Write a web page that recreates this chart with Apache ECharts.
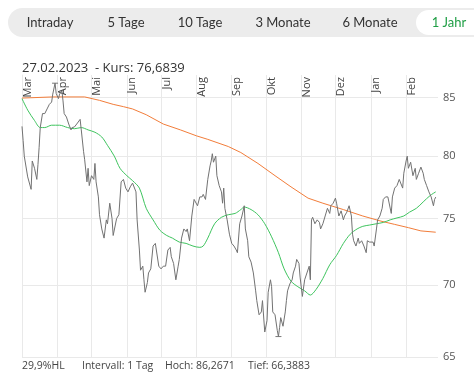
<!DOCTYPE html>
<html><head><meta charset="utf-8">
<script src="https://cdn.jsdelivr.net/npm/echarts@6/dist/echarts.min.js"></script>
<style>html,body{margin:0;padding:0;background:#fff;}#c{width:474px;height:373px;}</style>
</head><body><div id="c"></div>
<script>
// ---- data ----
const startDate = '2022-03-01';
const endDate = '2023-03-01';
const monthStarts = ['2022-03-01','2022-04-01','2022-05-01','2022-06-01','2022-07-01','2022-08-01','2022-09-01','2022-10-01','2022-11-01','2022-12-01','2023-01-01','2023-02-01'];
const monthLabels = ['Mar','Apr','Mai','Jun','Jul','Aug','Sep','Okt','Nov','Dez','Jan','Feb'];
const yTicks = [65, 70, 75, 80, 85];

// days since 2022-03-01 and close prices
const priceDays = [0,1,2,5,8,9,11,13,14,15,16,18,20,22,24,26,27,29,30,32,33,35,36,37,39,41,43,44,46,48,51,52,54,55,57,58,59,61,63,64,65,67,68,70,72,74,75,77,79,80,83,85,87,89,91,93,95,97,98,100,101,103,104,106,107,108,110,111,113,115,117,118,120,122,124,126,128,130,131,133,135,137,138,140,142,144,145,147,149,151,152,154,156,158,159,161,163,165,166,167,168,170,171,173,175,176,177,178,180,182,184,186,188,189,191,193,195,196,198,199,201,203,205,206,208,210,211,213,215,216,218,219,220,222,224,225,226,227,229,231,232,233,235,237,238,240,241,243,244,246,248,250,252,253,254,255,257,259,261,262,264,266,268,270,271,273,275,276,278,280,282,283,285,287,289,290,291,293,295,296,298,300,302,303,305,308,309,311,312,314,316,317,319,321,322,324,325,327,329,331,332,334,335,337,338,339,341,343,345,346,348,350,352,353,355,357,359,361,362,363];
const priceValues = [82.5,81.3,80.0,78.3,77.3,79.6,79.0,78.1,79.3,80.7,82.4,83.6,83.6,84.0,84.4,84.6,85.3,86.27,85.35,84.9,85.3,85.6,84.7,83.6,83.3,82.7,82.2,82.4,82.45,82.7,83.1,82.2,80.4,79.7,77.9,79.0,77.6,78.4,78.1,79.4,77.9,76.7,75.3,74.2,73.5,74.9,74.6,76.2,75.0,73.7,75.0,75.3,77.9,78.1,77.4,77.1,77.5,77.8,77.9,77.1,74.9,72.6,71.1,71.4,70.4,69.5,70.2,70.9,71.2,72.9,73.1,73.1,71.4,71.2,71.4,71.4,72.6,72.8,72.1,71.6,70.4,71.4,71.9,73.5,74.2,74.0,74.2,73.3,75.2,76.5,76.6,76.0,76.7,76.7,76.9,76.5,78.1,79.2,79.6,80.2,79.5,80.0,78.4,77.6,77.1,76.2,77.4,75.8,74.9,73.8,73.1,72.9,72.6,72.4,74.6,75.2,76.0,74.2,73.3,72.1,71.7,70.9,69.6,68.9,67.9,68.1,68.9,66.7,67.5,69.5,70.4,69.9,68.1,67.9,66.8,66.39,67.0,67.7,67.1,68.1,68.9,69.6,70.1,70.4,70.9,71.4,71.9,71.6,70.6,69.2,70.4,70.9,71.4,70.4,74.9,75.1,74.6,74.9,74.7,74.2,74.6,75.2,75.8,75.4,76.0,76.2,76.6,76.2,75.2,75.6,74.9,75.2,75.5,76.0,75.2,73.8,73.3,72.9,73.5,73.1,73.3,72.9,72.4,73.3,73.2,73.2,72.9,74.2,74.9,75.2,75.8,76.5,76.7,76.7,76.7,75.4,76.7,77.4,77.6,78.1,78.0,77.4,78.6,79.6,80.0,79.0,79.5,78.4,79.0,78.1,78.6,79.1,78.6,78.1,77.6,77.1,76.7,76.0,76.5,76.6839];

// short moving average (green)
const maShortDays = [0,5,11,16,20,26,33,40,46,52,58,64,70,75,81,86,92,97,103,109,115,121,127,132,138,144,150,156,159,163,169,175,181,187,192,195,201,207,213,219,225,230,236,242,248,253,258,264,270,276,282,288,294,299,305,311,317,323,329,335,340,346,352,358,363];
const maShortValues = [84.9,83.9,83.0,82.4,82.4,82.6,82.6,82.4,82.3,82.4,82.2,82.0,81.6,80.9,80.0,79.0,78.4,78.0,77.4,75.8,74.9,74.1,73.7,73.5,73.2,73.1,72.9,72.8,72.9,73.5,74.6,75.1,75.3,75.4,75.7,75.9,75.7,75.3,74.6,73.6,72.4,71.2,70.3,69.9,69.6,69.3,69.7,70.5,71.5,72.2,73.1,73.8,74.2,74.4,74.5,74.6,74.7,74.9,75.05,75.2,75.5,75.8,76.3,76.8,77.1];

// 200-day moving average (orange)
const ma200Days = [0,27,55,68,80,89,97,109,124,139,153,163,181,192,207,222,236,251,264,282,299,315,327,339,350,363];
const ma200Values = [84.95,85.05,85.05,84.75,84.4,84.2,84.0,83.5,82.7,82.2,81.7,81.4,80.8,80.3,79.4,78.4,77.5,76.6,76.2,75.7,75.2,74.8,74.55,74.3,74.05,73.95];

const highDay = 29, highValue = 86.2671, lowDay = 225, lowValue = 66.3883;

// ---- chart ----
const DAY = 86400000;
const t0 = Date.parse(startDate + 'T00:00:00Z');
const dayOf = s => Math.round((Date.parse(s + 'T00:00:00Z') - t0) / DAY);
const monthTicks = monthStarts.map(dayOf);
const lastDay = dayOf(endDate);
const pts = (days, vals) => days.map((d, i) => [d, vals[i]]);
const FONT = 'Open Sans';

const chart = echarts.init(document.getElementById('c'), null, {renderer: 'canvas'});

chart.setOption({
  animation: false,
  backgroundColor: '#fff',
  grid: {left: 22, right: 36, top: 75, bottom: 16, containLabel: false, outerBoundsMode: 'none'},
  xAxis: {
    type: 'value', position: 'top', min: 0, max: lastDay,
    axisLine: {show: false},
    axisTick: {show: false, customValues: monthTicks},
    axisLabel: {
      inside: true, rotate: -90, customValues: monthTicks,
      align: 'right', verticalAlign: 'top', margin: 2,
      fontSize: 11, fontFamily: FONT, color: '#444',
      formatter: v => monthLabels[monthTicks.indexOf(v)] || '',
      hideOverlap: false, showMinLabel: true, showMaxLabel: true
    },
    splitLine: {show: true, lineStyle: {color: '#e9e9e9', width: 1}}
  },
  yAxis: {
    type: 'log', logBase: 10, position: 'right', min: 65, max: 87,
    axisLine: {show: true, lineStyle: {color: '#e9e9e9'}},
    axisTick: {show: false, customValues: yTicks},
    axisLabel: {customValues: yTicks, margin: 5, fontSize: 11, fontFamily: FONT, color: '#555', formatter: v => String(Math.round(v))},
    splitLine: {show: true, lineStyle: {color: '#e9e9e9', width: 1}}
  },
  series: [
    {type: 'line', data: pts(ma200Days, ma200Values), showSymbol: false, symbol: 'none',
     lineStyle: {color: '#f27d3a', width: 1}, z: 2},
    {type: 'line', data: pts(maShortDays, maShortValues), showSymbol: false, symbol: 'none', smooth: 0.3,
     lineStyle: {color: '#3ec45e', width: 1}, z: 3},
    {type: 'line', data: pts(priceDays, priceValues), showSymbol: false, symbol: 'none',
     lineStyle: {color: '#727272', width: 1}, z: 4,
     markPoint: {
       symbol: 'rect', symbolSize: [6, 1], label: {show: false}, itemStyle: {color: '#777'},
       data: [{coord: [highDay, highValue]}, {coord: [lowDay, lowValue]}]
     }}
  ],
  graphic: [
    {type: 'rect', left: 8, top: 8, shape: {width: 480, height: 29, r: 14.5}, style: {fill: '#ececec'}},
    {type: 'rect', left: 416, top: 10, shape: {width: 70, height: 25, r: 12.5}, style: {fill: '#ffffff'}},
    {type: 'text', x: 50, y: 22.5, style: {text: 'Intraday', font: '13px Lato', fill: '#333', align: 'center', verticalAlign: 'middle'}},
    {type: 'text', x: 126, y: 22.5, style: {text: '5 Tage', font: '13px Lato', fill: '#333', align: 'center', verticalAlign: 'middle'}},
    {type: 'text', x: 200, y: 22.5, style: {text: '10 Tage', font: '13px Lato', fill: '#333', align: 'center', verticalAlign: 'middle'}},
    {type: 'text', x: 283, y: 22.5, style: {text: '3 Monate', font: '13px Lato', fill: '#333', align: 'center', verticalAlign: 'middle'}},
    {type: 'text', x: 370, y: 22.5, style: {text: '6 Monate', font: '13px Lato', fill: '#333', align: 'center', verticalAlign: 'middle'}},
    {type: 'text', x: 449, y: 22.5, style: {text: '1 Jahr', font: '13px Lato', fill: '#1f9e45', align: 'center', verticalAlign: 'middle'}},
    {type: 'text', x: 22, y: 68, style: {text: '27.02.2023  - Kurs: 76,6839', font: '13px "Open Sans"', fill: '#333', align: 'left', verticalAlign: 'middle'}},
    {type: 'text', x: 22, y: 366, style: {text: '29,9%HL', font: '10.5px "Open Sans"', fill: '#444', align: 'left', verticalAlign: 'middle'}},
    {type: 'text', x: 82, y: 366, style: {text: 'Intervall: 1 Tag', font: '10.5px "Open Sans"', fill: '#444', align: 'left', verticalAlign: 'middle'}},
    {type: 'text', x: 165, y: 366, style: {text: 'Hoch: 86,2671', font: '10.5px "Open Sans"', fill: '#444', align: 'left', verticalAlign: 'middle'}},
    {type: 'text', x: 248, y: 366, style: {text: 'Tief: 66,3883', font: '10.5px "Open Sans"', fill: '#444', align: 'left', verticalAlign: 'middle'}}
  ]
});
</script></body></html>
